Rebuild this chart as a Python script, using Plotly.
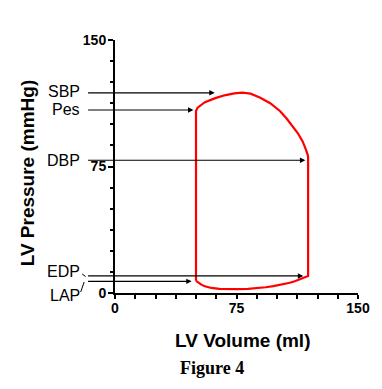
import plotly.graph_objects as go

# ---- data ----
# pressure-volume loop: filling (bottom, left->right), isovolumic contraction,
# ejection (top, right->left), isovolumic relaxation back to start
loop_volume = [50.0, 51.4, 53.5, 55.5, 59.5, 64.5, 70.0, 75.6, 82.0, 87.7, 93.0, 97.8,
               103.0, 107.9, 111.0, 113.9, 117.0, 119.2,
               119.2, 119.0, 117.9, 115.9, 112.9, 109.9, 105.8, 101.8, 95.8, 89.7,
               83.7, 78.6, 73.6, 67.6, 61.5, 55.5, 52.4, 51.0, 50.0, 50.0]
loop_pressure = [7.2, 6.1, 4.8, 4.0, 3.0, 2.4, 2.2, 2.3, 2.5, 2.9, 3.4, 4.1,
                 5.0, 6.1, 7.0, 8.1, 9.2, 10.1,
                 80.8, 81.8, 84.8, 89.7, 94.7, 98.6, 103.6, 107.9, 112.5, 115.8,
                 118.2, 118.8, 118.4, 117.2, 115.4, 113.1, 111.0, 109.9, 107.9, 7.2]

marker_labels = ["SBP", "Pes", "DBP", "EDP", "LAP"]
marker_pressure = [118.7, 108.5, 78.7, 10.1, 6.9]
marker_head_volume = [61.5, 48.4, 117.5, 116.2, 47.3]

x_ticks = [0, 75, 150]
y_ticks = [0, 75, 150]

# ---- layout constants (page pixels; the page body has an 8px margin) ----
PAGE_W, PAGE_H = 382, 389
BODY = 8
W, H = PAGE_W - BODY, PAGE_H - BODY
PLOT_L, PLOT_R, PLOT_T, PLOT_B = 115, 363, 40, 293   # plot area in page pixels
ML, MR, MT, MB = PLOT_L - BODY, PAGE_W - PLOT_R, PLOT_T - BODY, PAGE_H - PLOT_B
PW, PH = PLOT_R - PLOT_L, PLOT_B - PLOT_T


def px_x(px):
    return (px - PLOT_L) / PW


def px_y(py):
    return (PLOT_B - py) / PH


SANS = "Liberation Sans, Arial, sans-serif"
SERIF = "Liberation Serif, Times New Roman, serif"
tail_volume = (86 - PLOT_L) / PW * 150
label_right_px = 81
label_dy_px = [-1, 0, 0, -4, 14]  # label centre relative to its arrow line

fig = go.Figure()
fig.add_trace(go.Scatter(x=loop_volume, y=loop_pressure, mode="lines",
                         line=dict(color="#ff0000", width=2.2), hoverinfo="skip",
                         showlegend=False))

annotations = []
shapes = []
for name, p, hv, dy in zip(marker_labels, marker_pressure, marker_head_volume, label_dy_px):
    annotations.append(dict(x=hv, y=p, xref="x", yref="y", ax=tail_volume, ay=p,
                            axref="x", ayref="y", text="", showarrow=True,
                            arrowhead=2, arrowsize=0.9, arrowwidth=1.2,
                            arrowcolor="black", standoff=0, startstandoff=0))
    line_py = PLOT_B - p / 150 * PH
    annotations.append(dict(x=px_x(label_right_px), y=px_y(line_py + dy),
                            xref="paper", yref="paper", text=name, showarrow=False,
                            xanchor="right", yanchor="middle",
                            font=dict(family=SANS, size=16, color="black")))

# small leader strokes for EDP / LAP
shapes.append(dict(type="line", xref="paper", yref="paper",
                   x0=px_x(81.5), y0=px_y(274), x1=px_x(85), y1=px_y(276.5),
                   line=dict(color="black", width=1)))
shapes.append(dict(type="line", xref="paper", yref="paper",
                   x0=px_x(80), y0=px_y(292), x1=px_x(83.5), y1=px_y(282),
                   line=dict(color="black", width=1)))

annotations.append(dict(x=px_x(25.5), y=px_y(173), xref="paper", yref="paper",
                        text="LV Pressure (mmHg)", textangle=-90, showarrow=False,
                        xanchor="center", yanchor="middle",
                        font=dict(family=SANS, size=19, color="black", weight="bold")))
annotations.append(dict(x=px_x(245), y=px_y(340), xref="paper", yref="paper",
                        text="LV Volume (ml)", showarrow=False,
                        xanchor="center", yanchor="middle",
                        font=dict(family=SANS, size=19, color="black", weight="bold")))
annotations.append(dict(x=px_x(214.5), y=px_y(367.5), xref="paper", yref="paper",
                        text="Figure 4", showarrow=False,
                        xanchor="center", yanchor="middle",
                        font=dict(family=SERIF, size=18, color="black", weight="bold")))

axis_common = dict(showgrid=False, zeroline=False, showline=True, linecolor="black",
                   linewidth=2, ticks="outside", tickcolor="black", tickwidth=2,
                   tickfont=dict(family=SANS, size=14, color="black", weight="bold"),
                   range=[0, 150], fixedrange=True)

fig.update_layout(
    width=W, height=H, autosize=False,
    margin=dict(l=ML, r=MR, t=MT, b=MB, pad=0),
    paper_bgcolor="white", plot_bgcolor="white",
    xaxis=dict(**axis_common, tickvals=x_ticks, ticklen=4, ticklabelstandoff=-3,
               minor=dict(dtick=12.5, ticks="outside", ticklen=4, tickwidth=2,
                          tickcolor="black")),
    yaxis=dict(**axis_common, tickvals=y_ticks, ticklen=5, ticklabelstandoff=-1,
               minor=dict(dtick=12.5, ticks="outside", ticklen=3, tickwidth=2,
                          tickcolor="black")),
    annotations=annotations, shapes=shapes,
)

fig.write_html("out.html", config={"displayModeBar": False})
